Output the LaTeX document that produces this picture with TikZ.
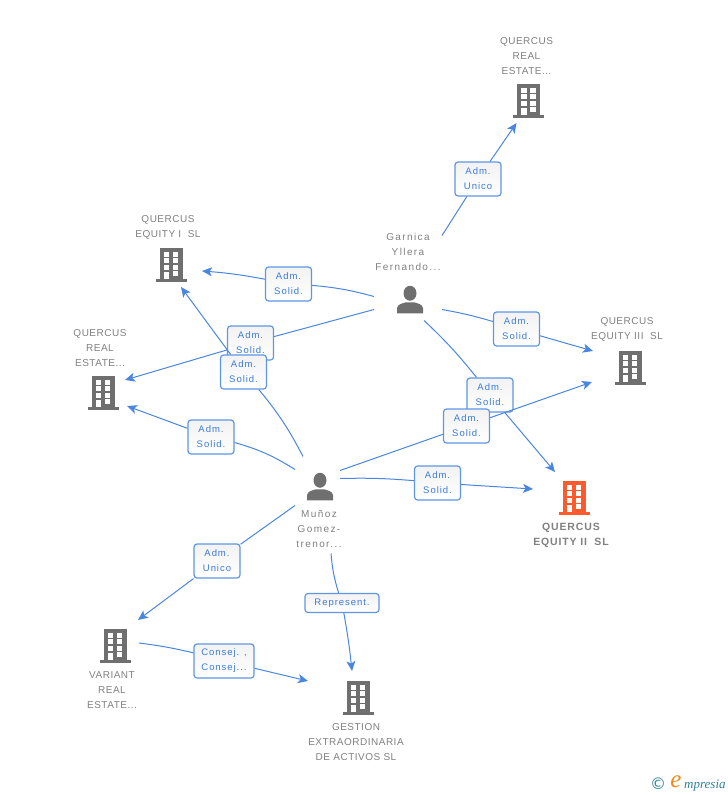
\documentclass[tikz,border=0pt]{standalone}
\usepackage{fontspec}
\usetikzlibrary{calc,positioning,arrows.meta}
\newfontfamily\lblfont[LetterSpace=5]{Liberation Sans}
\newfontfamily\widefont[LetterSpace=14]{Liberation Sans}
\newfontfamily\boxfont[LetterSpace=10]{Liberation Sans}
\newfontfamily\mainfont[LetterSpace=8]{Liberation Sans}
\definecolor{linkblue}{HTML}{4A86E0}
\definecolor{boxblue}{HTML}{5F96E4}
\definecolor{txtblue}{HTML}{3A7BDE}
\definecolor{icongray}{HTML}{6F6F6F}
\definecolor{lblgray}{HTML}{808080}
\definecolor{iconred}{HTML}{FF5A2E}
\definecolor{logoteal}{HTML}{2F7F96}
\definecolor{logoorange}{HTML}{F08A1D}
\tikzset{
	>={Stealth[length=10pt,width=9pt,inset=2.5pt]},
	link/.style={draw=linkblue, line width=1pt},
	rel/.style={
		rectangle,
		rounded corners=3pt,
		draw=boxblue, line width=1.2pt,
		top color=black!5,
		bottom color=white,
		minimum width=46pt,
		minimum height=34pt,
		inner sep=1pt,
		align=center,
		text=txtblue,
		font=\boxfont\fontsize{9.5}{15}\selectfont},
	icon/.style={inner sep=0pt, outer sep=0pt},
	lbl/.style={
		align=center,
		inner sep=0pt,
		text=lblgray,
		font=\lblfont\fontsize{10}{15}\selectfont},
	lblwide/.style={lbl, font=\widefont\fontsize{10}{15}\selectfont},
	lblmain/.style={lbl, font=\mainfont\bfseries\fontsize{10.5}{15}\selectfont},
}
\newcommand*\building[1]{\tikz[x=1pt,y=1pt]{
		\fill[#1] (0,0) rectangle (31,3);
		\fill[#1] (4,3) rectangle (27,34);
		\foreach \wy in {25.5,19,12.5}{
			\fill[white] (8,\wy) rectangle (13.5,\wy+5);
			\fill[white] (17,\wy) rectangle (22.5,\wy+5);}
		\fill[white] (8,3) rectangle (13.5,10.5);
		\fill[white] (17,6) rectangle (22.5,11);}}
\newcommand*\person{\tikz[x=1pt,y=1pt]{
		\fill[icongray] (13,20) circle [x radius=6.5, y radius=7.5];
		\fill[icongray] (0,0) -- (0,5) .. controls (0,9) and (6,10) .. (9,11)
			-- (17,11) .. controls (20,10) and (26,9) .. (26,5) -- (26,0) -- cycle;}}

\begin{document}
\begin{tikzpicture}[x=1pt,y=-1pt]
\useasboundingbox (0,0) rectangle (728,795);
\node[icon] (qre1) at (528.5,101) {\building{icongray}};
\node[icon] (qeI) at (171,265) {\building{icongray}};
\node[icon] (qre2) at (103,393) {\building{icongray}};
\node[icon] (qeIII) at (630,368) {\building{icongray}};
\node[icon] (qeII) at (574,498) {\building{iconred}};
\node[icon] (variant) at (115,646) {\building{icongray}};
\node[icon] (gestion) at (358,698) {\building{icongray}};
\node[icon] (garnica) at (410,299.5) {\person};
\node[icon] (munoz) at (320,486.5) {\person};

\node[lbl, above=9pt of qre1, xshift=-2pt] (qre1txt) {QUERCUS\\REAL\\ESTATE...};
\node[lbl, above=8.5pt of qeI, xshift=-3pt] (qeItxt) {QUERCUS\\EQUITY I\ \ SL};
\node[lbl, above=9.5pt of qre2, xshift=-3pt] (qre2txt) {QUERCUS\\REAL\\ESTATE...};
\node[lbl, above=9pt of qeIII, xshift=-3pt] (qeIIItxt) {QUERCUS\\EQUITY III\ \ SL};
\node[lblmain, below=7.5pt of qeII, xshift=-3pt] (qeIItxt) {QUERCUS\\EQUITY II\ \ SL};
\node[lbl, below=8.5pt of variant, xshift=-3pt] (varianttxt) {VARIANT\\REAL\\ESTATE...};
\node[lbl, below=8.5pt of gestion, xshift=-2pt] (gestiontxt) {GESTION\\EXTRAORDINARIA\\DE ACTIVOS SL};
\node[lblwide, above=14.5pt of garnica, xshift=-2pt] (garnicatxt) {Garnica\\Yllera\\Fernando...};
\node[lblwide, below=10pt of munoz, xshift=-1pt] (munoztxt) {Muñoz\\Gomez-\\trenor...};

\node[rel] (unico1) at (478,179) {Adm.\\Unico};
\node[rel] (solid1) at (288.5,284) {Adm.\\Solid.};
\node[rel] (solid2) at (250.5,343) {Adm.\\Solid.};
\node[rel] (solid3) at (243.5,372) {Adm.\\Solid.};
\node[rel] (solid4) at (211,437) {Adm.\\Solid.};
\node[rel] (solid5) at (516.5,329) {Adm.\\Solid.};
\node[rel] (solid6) at (490,395) {Adm.\\Solid.};
\node[rel] (solid7) at (466.5,426) {Adm.\\Solid.};
\node[rel] (solid8) at (437.5,483) {Adm.\\Solid.};
\node[rel] (unico2) at (217,561) {Adm.\\Unico};
\node[rel, minimum width=74pt, minimum height=19pt] (repr) at (342,603) {Represent.};
\node[rel, minimum width=60pt] (consej) at (224,661) {Consej. ,\\Consej...};

\draw[link] ($(garnica)+(32,-64)$) -- (unico1);
\draw[link,->] (unico1) -- ($(qre1)+(-12,22)$);
\draw[link] ($(garnica)+(-36,-3)$) to[bend right=5] (solid1);
\draw[link,->] (solid1) to[bend right=3] ($(qeI)+(31,6)$);
\draw[link] ($(garnica)+(-36,10)$) -- (solid2);
\draw[link,->] (solid2) -- ($(qre2)+(22,-13)$);
\draw[link] ($(munoz)+(-17,-30)$) to[bend right=6] (solid3);
\draw[link,->] (solid3) to ($(qeI)+(10,22)$);
\draw[link] ($(munoz)+(-25,-17)$) to[bend right=8] (solid4);
\draw[link,->] (solid4) -- ($(qre2)+(24,13)$);
\draw[link] ($(garnica)+(32,10)$) to[bend left=3] (solid5);
\draw[link,->] (solid5) -- ($(qeIII)+(-37,-17)$);
\draw[link] ($(garnica)+(14,21)$) to[bend left=4] (solid6);
\draw[link,->] (solid6) -- ($(qeII)+(-19,-26)$);
\draw[link] ($(munoz)+(20,-16)$) -- (solid7);
\draw[link,->] (solid7) -- ($(qeIII)+(-38,14)$);
\draw[link] ($(munoz)+(20,-8)$) to[bend left=3] (solid8);
\draw[link,->] (solid8) -- ($(qeII)+(-41,-9)$);
\draw[link] ($(munoz)+(-25,19)$) -- (unico2);
\draw[link,->] (unico2) -- ($(variant)+(23,-26)$);
\draw[link] ($(munoz)+(11,67)$) to[bend right=6] (repr);
\draw[link,->] (repr) to[bend left=2] ($(gestion)+(-6,-27)$);
\draw[link] ($(variant)+(24,-3)$) to[bend left=3] (consej);
\draw[link,->] (consej) -- ($(gestion)+(-50,-17)$);

\node[inner sep=0pt, text=logoteal, font=\fontspec{DejaVu Sans}\fontsize{16}{16}\selectfont] (logoc) at (658,784) {©};
\node[inner sep=0pt, text=logoorange, font=\fontspec{Liberation Serif}\itshape\fontsize{25}{25}\selectfont] (logoe) at (676,782) {e};
\node[inner sep=0pt, anchor=west, text=logoteal, font=\fontspec{Liberation Serif}\itshape\fontsize{13}{15}\selectfont] (logot) at (684,785.5) {mpresia};
\end{tikzpicture}
\end{document}
